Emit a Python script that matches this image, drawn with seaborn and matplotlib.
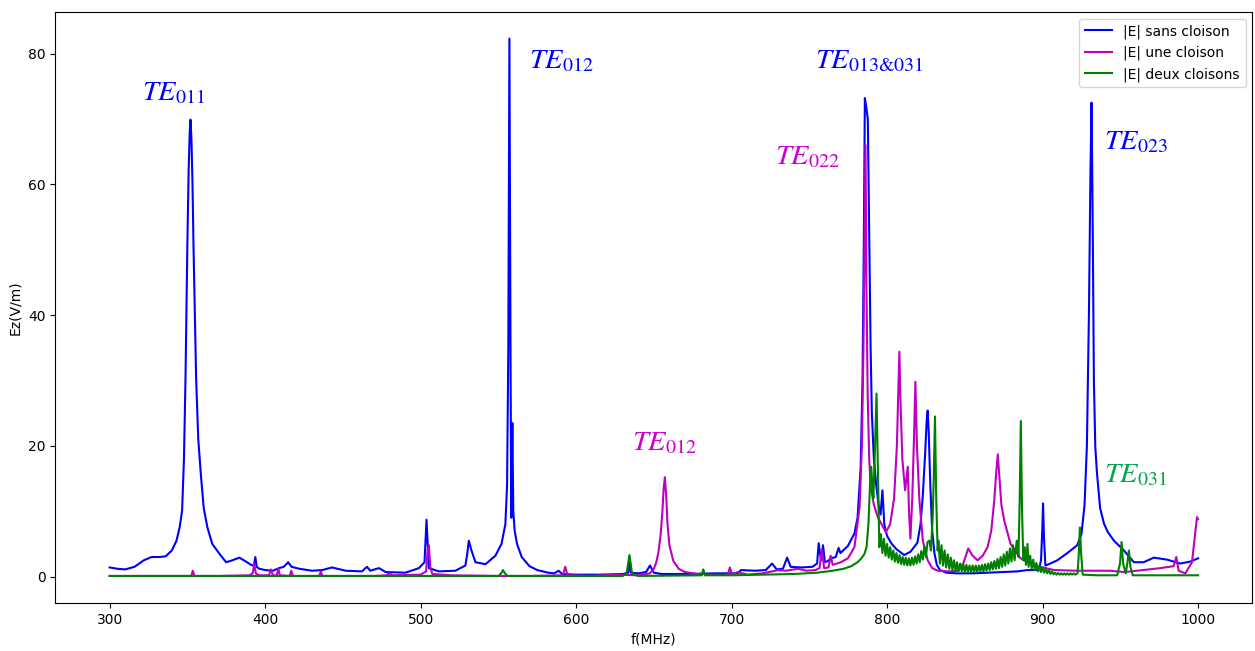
import numpy as np
import pandas as pd
import matplotlib
matplotlib.use("Agg")
import matplotlib.pyplot as plt
import seaborn as sns

plt.rcParams['mathtext.fontset'] = 'stix'

# |E| sans cloison
f_sans = [300, 305, 310, 316, 322, 327, 332, 336, 340, 343, 345, 346.6, 347.8, 348.8, 349.5, 350.0,
          350.8, 351.5, 352.0, 352.6, 353.3, 353.9, 354.8, 355.6, 357.0, 358.8, 360.5, 362.9, 366,
          370.6, 374.9, 379, 383.4, 387, 390.9, 392.8, 393.7, 394.6, 396.2, 400, 405, 409, 412, 414.8,
          417, 421.9, 430.2, 436.7, 443, 451.9, 462.3, 465.5, 467.6, 473.2, 477.5, 490.3, 498.9, 502.5,
          503.8, 505.3, 511.7, 522.4, 528.8, 530, 531, 532.7, 535.3, 541.7, 548.1, 552, 554.5, 555.6,
          556.4, 557.1, 557.8, 558.3, 559.0, 559.6, 560.5, 562, 565, 570, 575, 582, 586, 588.7, 591,
          600, 615, 630, 633.5, 634.3, 635.2, 640, 645, 647.5, 650, 655, 670, 690, 704, 706, 715, 722,
          726, 729, 733, 735.7, 738, 745, 752, 755, 756, 757.5, 758.8, 760, 762, 763.9, 767, 768.8,
          770, 774.8, 779, 781, 783, 784.2, 785.0, 785.7, 786.5, 787.6, 788.6, 789.4, 790.2, 791.5,
          793, 794.5, 795.8, 797, 798.2, 800, 803, 806, 811, 815, 817, 819.5, 821.5, 823, 824.5, 825.5,
          826.1, 826.8, 827.8, 829, 830.5, 832, 834, 838, 845, 855, 865, 875, 884, 890, 895, 897.6,
          899, 899.8, 900.3, 900.9, 901.8, 905, 909.5, 915.9, 922.3, 925, 927, 928.5, 929.8, 930.8,
          931.5, 932.2, 933.0, 933.9, 935, 937, 939.5, 942, 945.9, 952.3, 958.7, 965, 971.5, 980,
          988.5, 995, 1000]
e_sans = [1.4, 1.2, 1.1, 1.5, 2.5, 3.0, 3.0, 3.1, 4.0, 5.5, 7.5, 10.1, 18, 30.5, 42, 51,
          62, 68, 69.9, 67, 60, 51, 40, 30.5, 21, 15.2, 10.5, 7.5, 5.0,
          3.5, 2.2, 2.5, 2.9, 2.4, 1.8, 1.7, 3.0, 1.5, 1.2, 1.0, 0.9, 1.3, 1.5, 2.2,
          1.5, 1.2, 0.9, 1.0, 1.4, 0.9, 0.8, 1.5, 0.9, 1.3, 0.7, 0.6, 1.3, 2.2,
          8.7, 1.3, 0.8, 0.9, 1.7, 3.5, 5.5, 4.0, 2.2, 1.9, 3.2, 5.0, 8.0, 14,
          35, 82.3, 35, 9.0, 23.5, 10, 7, 5, 3, 1.6, 1.0, 0.6, 0.5, 0.9, 0.4,
          0.3, 0.3, 0.4, 0.6, 2.4, 0.6, 0.5, 0.7, 1.7, 0.6, 0.4, 0.4, 0.5, 0.5, 1.0, 0.9, 1.0,
          2.0, 1.1, 1.2, 2.9, 1.5, 1.4, 1.5, 2.0, 5.1, 2.5, 4.8, 2.2, 2.4, 2.8, 3.0, 4.4,
          3.6, 4.7, 6.6, 9, 16.7, 30, 50, 73.2, 72.0, 70.0, 50, 35, 25, 18,
          14, 11, 9.5, 13.2, 8.0, 6.2, 5.0, 4.2, 3.3, 3.8, 4.4, 5.2, 8, 12.5, 19, 24,
          25.4, 22, 14, 7, 3.5, 1.8, 1.0, 0.6, 0.5, 0.5, 0.6, 0.7, 0.8, 1.0, 1.0, 1.0,
          2.5, 7, 11.2, 6, 1.7, 2.0, 2.5, 3.6, 4.8, 6.5, 11, 20, 40, 62,
          72.5, 55, 30, 19.8, 15.8, 10.5, 8.1, 6.8, 5.5, 4.0, 2.2, 2.2, 2.9, 2.6,
          2.0, 2.3, 2.8]

# |E| une cloison
f_une = [300, 340, 352.5, 353.5, 354.5, 370, 390, 392, 393, 394, 396, 402.5, 403.7, 405, 407.5,
         408.5, 409.5, 415.8, 416.8, 417.8, 434.8, 435.8, 436.8, 470, 478, 480, 482, 500, 503.5,
         504.5, 505.3, 506.2, 507.5, 520, 550, 570, 591.5, 593, 594.5, 610, 625, 640, 647.5, 650,
         651.6, 653, 654.4, 655.5, 656.3, 657.1, 657.9, 658.8, 660, 662.5, 666, 670, 680.8, 681.8,
         682.8, 697.5, 698.9, 700.3, 703.8, 710, 720, 729.9, 735, 742.7, 748, 754, 756.5, 758.1,
         759.5, 762.3, 763.7, 765, 770.3, 774.8, 779, 782.3, 783.8, 784.8, 785.5, 786.1, 786.7,
         787.5, 788.5, 789.5, 791.5, 794, 799.2, 802, 804.5, 806.3, 807.2, 807.9, 808.6, 809.8,
         811.6, 813.3, 814.1, 815, 816.2, 817.4, 818.2, 819.2, 820.8, 823, 826.1, 829, 832.5, 840,
         845.4, 849, 852.2, 855, 858.2, 861.5, 864.6, 867, 868.9, 870.2, 871.2, 872.3, 873.5,
         875.3, 879.4, 885.8, 894.6, 907.4, 922.3, 943.5, 952.3, 960.8, 975.8, 984.3, 986, 987.5,
         991.8, 996.1, 999.3, 1000]
e_une = [0.1, 0.1, 0.1, 0.9, 0.1, 0.1, 0.2, 0.5, 2.0, 0.5, 0.2, 0.2, 1.1, 0.2, 0.2,
         1.2, 0.2, 0.1, 0.9, 0.1, 0.1, 0.8, 0.1, 0.1, 0.2, 0.5, 0.2, 0.3, 0.8,
         4.0, 4.8, 1.5, 0.4, 0.2, 0.1, 0.1, 0.2, 1.5, 0.2, 0.1, 0.3, 0.2, 0.5, 1.2,
         2.2, 3.8, 6.5, 10, 13.5, 15.2, 12.5, 8.0, 4.8, 2.4, 1.2, 0.7, 0.3, 0.9,
         0.3, 0.3, 1.4, 0.3, 0.7, 0.3, 0.5, 1.0, 0.9, 1.2, 0.9, 1.0, 1.3, 4.1,
         1.3, 1.4, 3.2, 1.8, 2.2, 2.8, 4.5, 10.6, 20, 35, 52, 66.0, 45,
         28, 18, 13.7, 11, 9.1, 6.8, 8, 12, 20, 28, 34.4, 27, 18,
         13.2, 16.8, 10, 5.8, 12, 22, 29.8, 20, 11.6, 5.5, 2.5, 1.3, 0.9, 0.8,
         0.9, 2.0, 4.3, 3.2, 2.5, 3.2, 4.5, 7, 11.6, 16, 18.7, 15, 11,
         8.6, 5.0, 2.8, 1.7, 1.0, 0.9, 0.9, 0.7, 0.9, 1.3, 1.6, 3.0, 0.9,
         0.5, 2.2, 9.1, 8.8]

# |E| deux cloisons
f_deux = [300, 400, 500, 550, 551.8, 553, 554.2, 556, 600, 630, 632.5, 633.5, 634.3, 635.1, 636,
          640, 680.8, 681.8, 682.8, 700, 720, 740, 755, 765, 772, 777, 781, 783.5, 785.5, 786.8,
          788, 789, 789.8, 790.5, 791.2, 792, 793.2, 794.2, 795,
          796, 797, 798, 799, 800, 801, 802, 803, 804, 805, 806, 807, 808, 809, 810, 811, 812, 813,
          814, 815, 816, 817, 818, 819, 820, 821, 822, 823, 824, 825, 826,
          827.2, 828.2, 829.3, 830, 830.8, 831.6, 832.5,
          833, 834, 835, 836, 837, 838, 839, 840, 841, 842, 843, 844, 845, 846, 847, 848, 849, 850,
          851, 852, 853, 854, 855, 856, 857, 858, 859, 860, 861, 862, 863, 864, 865, 866, 867, 868,
          869, 870, 871, 872, 873, 874, 875, 876, 877, 878, 879, 880, 881, 882,
          883.4, 884.5, 885.3, 886, 886.8, 887.6, 888.5, 889.3, 890.3,
          891, 892, 893, 894, 895, 896, 897, 898, 899, 900, 901, 902, 903, 904, 905, 906, 907, 908,
          909, 910, 911, 912, 913, 914, 915, 916, 917, 918, 919, 920, 921,
          922.5, 923.3, 924, 924.8, 925.8, 935, 948, 949.8, 950.8, 951.8, 953.5, 954.5, 955.5,
          956.5, 958, 970, 1000]
e_deux = [0.1, 0.1, 0.1, 0.1, 0.5, 1.0, 0.5, 0.1, 0.1, 0.1, 0.5, 2.0, 3.3, 2.0, 0.4,
          0.1, 0.2, 1.1, 0.2, 0.2, 0.3, 0.4, 0.6, 0.9, 1.2, 1.6, 2.2, 2.8, 3.5, 4.5,
          8, 14, 16.8, 14, 12, 18, 28.0, 15, 4.5,
          6.5, 3.6, 5.8, 3.2, 5.0, 2.9, 4.5, 2.6, 4.0, 2.3, 3.6, 2.1, 3.3, 1.9, 3.0, 1.8, 2.9, 1.7,
          2.8, 1.7, 2.9, 1.8, 3.1, 2.0, 3.4, 2.2, 3.9, 2.6, 4.6, 3.0, 5.3,
          5.5, 4.0, 9, 15, 24.5, 12, 4,
          5.5, 2.0, 4.8, 1.7, 4.0, 1.4, 3.4, 1.2, 2.9, 1.0, 2.5, 0.9, 2.2, 0.8, 2.0, 0.8, 1.9, 0.7,
          1.8, 0.7, 1.7, 0.7, 1.7, 0.7, 1.7, 0.7, 1.7, 0.8, 1.8, 0.8, 1.9, 0.9, 2.0, 1.0, 2.2, 1.1,
          2.4, 1.2, 2.7, 1.3, 3.0, 1.5, 3.4, 1.7, 3.8, 2.0, 4.3, 2.3, 4.8, 2.5,
          5.5, 3.0, 12, 23.8, 10, 2.5, 4.5, 1.8, 5.0,
          1.5, 3.2, 1.2, 2.6, 1.0, 2.1, 0.8, 1.7, 0.7, 1.4, 0.6, 1.2, 0.5, 1.0, 0.4, 0.8, 0.35, 0.6,
          0.3, 0.55, 0.3, 0.5, 0.3, 0.5, 0.3, 0.5, 0.3, 0.5, 0.3, 0.5, 0.3,
          0.5, 3.5, 7.5, 3.5, 0.3, 0.2, 0.2, 2.0, 5.3, 2.0, 0.5, 2.0, 4.0,
          1.5, 0.2, 0.2, 0.2]

fig = plt.figure(figsize=(12.55, 6.51), dpi=100)
ax = fig.add_axes([0.044, 0.074, 0.954, 0.908])

sns.lineplot(x=f_sans, y=e_sans, color='b', label='|E| sans cloison', estimator=None, sort=False, ax=ax, linewidth=1.5)
sns.lineplot(x=f_une, y=e_une, color='m', label='|E| une cloison', estimator=None, sort=False, ax=ax, linewidth=1.5)
sns.lineplot(x=f_deux, y=e_deux, color='g', label='|E| deux cloisons', estimator=None, sort=False, ax=ax, linewidth=1.5)

ax.set_xlabel('f(MHz)')
ax.set_ylabel('Ez(V/m)')
ax.legend(loc='upper right')

# annotations des modes
fs = 20.5
ax.text(321, 74.0, r'$TE_{011}$', color='#0000ff', fontsize=fs, va='center')
ax.text(569.5, 79.0, r'$TE_{012}$', color='#0000ff', fontsize=fs, va='center')
ax.text(753.6, 79.0, r'$TE_{013&031}$', color='#0000ff', fontsize=fs, va='center')
ax.text(939.7, 66.6, r'$TE_{023}$', color='#0000ff', fontsize=fs, va='center')
ax.text(728, 64.3, r'$TE_{022}$', color='#cc00cc', fontsize=fs, va='center')
ax.text(636.2, 20.6, r'$TE_{012}$', color='#cc00cc', fontsize=fs, va='center')
ax.text(939.7, 15.6, r'$TE_{031}$', color='#00a651', fontsize=fs, va='center')

plt.savefig('out.png', dpi=100)
